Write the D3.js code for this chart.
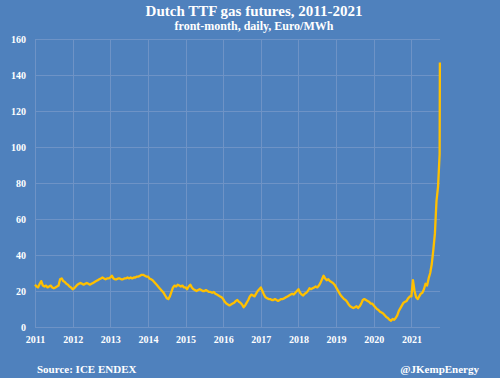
<!DOCTYPE html>
<html>
<head>
<meta charset="utf-8">
<script src="https://cdn.jsdelivr.net/npm/d3@7"></script>
<style>
  html, body { margin: 0; padding: 0; background: #4f81bd; }
  svg { display: block; }
</style>
</head>
<body>
<div id="chart"></div>
<script>
// Dutch TTF front-month gas price, Euro/MWh
// roughly two readings per month (1st and 16th), Jan 2011 - Sep 2021
const startYear = 2011;
const perYear = 24;
const ttf2011 = [23.5, 22.5, 22, 24, 25.5, 23, 22.5, 23, 22, 22.5, 23, 22, 21.5, 22, 22.5, 23, 26.5, 27, 25.5, 25, 24, 23.5, 22.5, 22];
const ttf2012 = [21, 21.5, 22.5, 23.5, 24, 24.5, 24, 23.5, 24, 24.5, 24, 23.5, 24, 24.5, 25, 25.5, 26, 26.5, 27, 27.5, 27, 26.5, 27, 27];
const ttf2013 = [27.5, 28.5, 27, 26.5, 26.5, 27, 27, 26.5, 26.5, 27, 27, 27.5, 27, 27.5, 27, 27.5, 27.5, 28, 28, 28.5, 29, 29, 28.5, 28];
const ttf2014 = [28, 27, 26.5, 26, 25, 24, 23, 22, 21, 20, 19, 17.5, 16, 15.5, 17, 19.5, 22, 23, 22.5, 23.5, 23, 22.5, 23, 22];
const ttf2015 = [22, 21, 22.5, 23.5, 22, 21, 20.5, 20, 20.5, 21, 20.5, 20, 20, 20.5, 20, 19.5, 19.5, 19, 19.5, 18.5, 18, 17.5, 17, 16.5];
const ttf2016 = [15.5, 14, 13, 12.5, 12, 12.5, 13, 13.5, 14.5, 15, 14, 13.5, 12.5, 11, 12, 13.5, 15, 17, 18, 17.5, 17, 18.5, 20, 21];
const ttf2017 = [22, 20, 18, 16.5, 16, 15.5, 15.5, 15, 15, 15.5, 15, 14.5, 15, 15.5, 15.5, 16, 16.5, 17, 17.5, 18, 18.5, 18, 19, 20];
const ttf2018 = [21, 19, 18, 17.5, 18.5, 19, 20, 21.5, 21, 21.5, 22, 22.5, 22, 23, 24.5, 26.5, 28.5, 27, 26, 26.5, 25.5, 25, 24.5, 23.5];
const ttf2019 = [22, 20.5, 19, 17.5, 16.5, 15.5, 15, 14, 12.5, 11.5, 11, 10.5, 11, 11.5, 10.5, 11.5, 13, 15, 15.5, 15, 14.5, 14, 13, 13];
const ttf2020 = [12, 11, 10, 9.5, 8.5, 8, 7.5, 6.5, 5.5, 5, 4, 3.5, 4.5, 4, 5, 6.5, 9, 10.5, 12, 13.5, 14, 14.5, 16, 17];
const ttf2021 = [17, 26, 20, 16.5, 15.5, 17, 18.5, 19, 21, 24, 23, 27, 30, 35, 43, 52, 70, 78, 96];
// final days of the run-up (decimal year, value)
const tailDates = [2021.757];
const tailValues = [147];

const yearTicks = d3.range(2011, 2022);
const valueTicks = [0, 20, 40, 60, 80, 100, 120, 140, 160];

const series = [ttf2011, ttf2012, ttf2013, ttf2014, ttf2015, ttf2016,
                ttf2017, ttf2018, ttf2019, ttf2020, ttf2021];
const data = [];
series.forEach((vals, yi) => {
  vals.forEach((v, i) => data.push({ t: startYear + yi + i / perYear, v: v }));
});
tailDates.forEach((t, i) => data.push({ t: t, v: tailValues[i] }));

const width = 500, height = 378;
const margin = { top: 39, right: 60, bottom: 51, left: 35 };
const font = "'Liberation Serif', 'Times New Roman', serif";

const svg = d3.select("#chart").append("svg")
  .attr("width", width)
  .attr("height", height)
  .style("background", "#4f81bd");

const x = d3.scaleLinear()
  .domain([2011, 2021.76])
  .range([margin.left, width - margin.right]);

const y = d3.scaleLinear()
  .domain([0, 160])
  .range([height - margin.bottom, margin.top]);

// grid
svg.append("g")
  .selectAll("line")
  .data(valueTicks)
  .join("line")
  .attr("x1", margin.left)
  .attr("x2", width - margin.right)
  .attr("y1", d => Math.round(y(d)) + 0.5)
  .attr("y2", d => Math.round(y(d)) + 0.5)
  .attr("stroke", "#6e93c6")
  .attr("stroke-width", 1);

svg.append("g")
  .selectAll("line")
  .data(yearTicks)
  .join("line")
  .attr("x1", d => Math.round(x(d)) + 0.5)
  .attr("x2", d => Math.round(x(d)) + 0.5)
  .attr("y1", y(160))
  .attr("y2", y(0))
  .attr("stroke", "#6e93c6")
  .attr("stroke-width", 1);

// axes (labels only)
const yAxis = svg.append("g")
  .attr("transform", `translate(${margin.left - 9},0)`)
  .call(d3.axisLeft(y).tickValues(valueTicks).tickSize(0).tickPadding(0));
const xAxis = svg.append("g")
  .attr("transform", `translate(0,${height - margin.bottom + 9})`)
  .call(d3.axisBottom(x).tickValues(yearTicks).tickFormat(d3.format("d")).tickSize(0).tickPadding(0));

[yAxis, xAxis].forEach(a => {
  a.select(".domain").remove();
  a.selectAll("text")
    .attr("fill", "#ffffff")
    .style("font-family", font)
    .style("font-weight", "bold")
    .style("font-size", "10px");
});

// price line
const line = d3.line()
  .x(d => x(d.t))
  .y(d => y(d.v));

svg.append("path")
  .datum(data)
  .attr("fill", "none")
  .attr("stroke", "#ffc000")
  .attr("stroke-width", 2.3)
  .attr("stroke-linejoin", "round")
  .attr("d", line);

// titles
svg.append("text")
  .attr("x", 254)
  .attr("y", 16)
  .attr("text-anchor", "middle")
  .attr("fill", "#ffffff")
  .style("font-family", font)
  .style("font-weight", "bold")
  .style("font-size", "15px")
  .text("Dutch TTF gas futures, 2011-2021");

svg.append("text")
  .attr("x", 254)
  .attr("y", 30)
  .attr("text-anchor", "middle")
  .attr("fill", "#ffffff")
  .style("font-family", font)
  .style("font-weight", "bold")
  .style("font-size", "12px")
  .text("front-month, daily, Euro/MWh");

// footer
svg.append("text")
  .attr("x", 37)
  .attr("y", 373)
  .attr("fill", "#ffffff")
  .style("font-family", font)
  .style("font-weight", "bold")
  .style("font-size", "11px")
  .text("Source: ICE ENDEX");

svg.append("text")
  .attr("x", 479)
  .attr("y", 373)
  .attr("text-anchor", "end")
  .attr("fill", "#ffffff")
  .style("font-family", font)
  .style("font-weight", "bold")
  .style("font-size", "11px")
  .text("@JKempEnergy");
</script>
</body>
</html>
